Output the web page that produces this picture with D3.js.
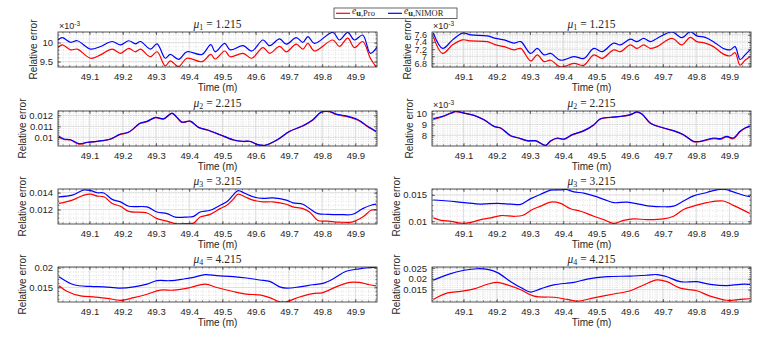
<!DOCTYPE html>
<html>
<head>
<meta charset="utf-8">
<script src="https://cdnjs.cloudflare.com/ajax/libs/d3/7.8.5/d3.min.js"></script>
<style>
  body { margin: 0; background: #fff; }
  svg text { font-family: "Liberation Sans", Arial, sans-serif; fill: #262626; }
</style>
</head>
<body>
<svg id="fig" width="765" height="337"></svg>
<script>
// time axis
var timeRange = [49.005, 49.965];
var timeTicks = [49.1, 49.2, 49.3, 49.4, 49.5, 49.6, 49.7, 49.8, 49.9];

// mu_1 = 1.215, left
var tA1 = [49.005, 49.018, 49.043, 49.063, 49.103, 49.133, 49.168, 49.193, 49.218, 49.238, 49.253, 49.283, 49.303, 49.328, 49.343, 49.368, 49.393, 49.438, 49.465, 49.478, 49.507, 49.523, 49.562, 49.588, 49.622, 49.642, 49.672, 49.692, 49.722, 49.742, 49.757, 49.777, 49.832, 49.852, 49.877, 49.897, 49.922, 49.945, 49.965];
var nimorA1 = [10.07, 10.13, 10.01, 10.05, 9.83, 9.90, 10.03, 9.94, 10.05, 9.97, 10.03, 9.83, 9.97, 9.59, 9.69, 9.56, 9.76, 9.69, 9.95, 9.76, 9.98, 9.81, 9.92, 9.78, 10.07, 9.92, 10.10, 9.96, 10.13, 10.01, 10.16, 9.98, 10.27, 10.07, 10.27, 10.07, 10.20, 9.72, 9.88];
var proA1 = [9.87, 9.94, 9.81, 9.83, 9.59, 9.68, 9.83, 9.72, 9.85, 9.76, 9.83, 9.63, 9.76, 9.39, 9.52, 9.37, 9.59, 9.50, 9.69, 9.57, 9.78, 9.63, 9.72, 9.59, 9.87, 9.72, 9.90, 9.76, 9.96, 9.83, 9.98, 9.78, 10.07, 9.90, 10.12, 9.87, 10.03, 9.59, 9.33];

// mu_1 = 1.215, right
var tB1 = [49.009, 49.037, 49.067, 49.097, 49.122, 49.172, 49.197, 49.222, 49.252, 49.272, 49.302, 49.322, 49.342, 49.362, 49.392, 49.432, 49.462, 49.492, 49.517, 49.552, 49.572, 49.602, 49.622, 49.642, 49.662, 49.682, 49.727, 49.757, 49.782, 49.802, 49.827, 49.852, 49.882, 49.902, 49.917, 49.932, 49.947, 49.962];
var nimorB1 = [7.65, 7.22, 7.46, 7.65, 7.60, 7.57, 7.50, 7.46, 7.37, 7.41, 7.08, 7.22, 7.04, 7.08, 6.89, 6.99, 6.94, 7.22, 7.13, 7.37, 7.32, 7.48, 7.41, 7.50, 7.41, 7.50, 7.68, 7.52, 7.69, 7.57, 7.53, 7.41, 7.22, 7.18, 7.27, 6.91, 7.04, 7.18];
var proB1 = [7.55, 7.08, 7.32, 7.46, 7.43, 7.41, 7.32, 7.27, 7.18, 7.22, 6.87, 7.04, 6.85, 6.89, 6.70, 6.80, 6.75, 7.04, 6.94, 7.18, 7.13, 7.32, 7.22, 7.32, 7.22, 7.27, 7.50, 7.32, 7.53, 7.41, 7.37, 7.27, 7.06, 7.01, 7.10, 6.75, 6.89, 6.99];

// mu_2 = 2.215, left
var tA2 = [49.008, 49.023, 49.043, 49.068, 49.093, 49.123, 49.163, 49.193, 49.218, 49.253, 49.273, 49.298, 49.323, 49.348, 49.363, 49.378, 49.403, 49.428, 49.453, 49.493, 49.532, 49.562, 49.582, 49.607, 49.627, 49.662, 49.702, 49.742, 49.772, 49.797, 49.822, 49.842, 49.872, 49.902, 49.917, 49.937, 49.962];
var nimorA2 = [10.09, 9.85, 9.78, 9.42, 9.55, 9.64, 9.85, 10.30, 10.48, 11.30, 11.45, 11.82, 11.69, 12.21, 11.82, 11.39, 11.48, 10.91, 10.69, 10.24, 9.78, 9.64, 9.64, 9.33, 9.27, 9.73, 10.55, 11.05, 11.60, 12.30, 12.36, 12.12, 11.96, 11.69, 11.45, 11.00, 10.55];
var proA2 = [10.00, 9.80, 9.76, 9.38, 9.53, 9.63, 9.84, 10.27, 10.46, 11.28, 11.43, 11.80, 11.67, 12.18, 11.80, 11.36, 11.46, 10.89, 10.67, 10.22, 9.76, 9.62, 9.62, 9.31, 9.25, 9.71, 10.53, 11.03, 11.58, 12.28, 12.34, 12.08, 11.90, 11.63, 11.40, 10.96, 10.52];

// mu_2 = 2.215, right
var tB2 = [49.009, 49.037, 49.062, 49.077, 49.102, 49.132, 49.162, 49.192, 49.212, 49.242, 49.267, 49.292, 49.317, 49.347, 49.362, 49.382, 49.402, 49.427, 49.462, 49.492, 49.512, 49.542, 49.572, 49.602, 49.622, 49.637, 49.662, 49.702, 49.732, 49.762, 49.792, 49.812, 49.852, 49.872, 49.892, 49.912, 49.932, 49.947, 49.962];
var nimorB2 = [9.54, 9.76, 10.06, 10.22, 10.06, 9.85, 9.44, 8.83, 8.68, 7.96, 7.75, 7.50, 7.50, 7.07, 7.50, 7.75, 7.66, 8.06, 8.43, 8.98, 9.54, 9.67, 9.76, 9.91, 10.16, 9.97, 9.14, 8.68, 8.43, 8.06, 7.44, 7.44, 7.75, 7.69, 7.91, 7.75, 8.37, 8.68, 8.83];
var proB2 = [9.46, 9.72, 10.04, 10.20, 10.04, 9.83, 9.42, 8.81, 8.66, 7.94, 7.73, 7.48, 7.47, 7.05, 7.46, 7.71, 7.62, 8.03, 8.41, 8.96, 9.52, 9.65, 9.74, 9.89, 10.14, 9.95, 9.12, 8.66, 8.41, 8.04, 7.42, 7.42, 7.70, 7.62, 7.85, 7.68, 8.33, 8.66, 8.82];

// mu_3 = 3.215, left
var tA3 = [49.008, 49.048, 49.083, 49.103, 49.123, 49.143, 49.168, 49.193, 49.218, 49.273, 49.303, 49.333, 49.358, 49.393, 49.413, 49.433, 49.463, 49.493, 49.513, 49.532, 49.547, 49.567, 49.592, 49.622, 49.652, 49.692, 49.712, 49.742, 49.762, 49.787, 49.817, 49.852, 49.892, 49.922, 49.947, 49.962];
var nimorA3 = [13.52, 13.72, 14.32, 14.24, 14.00, 13.96, 13.21, 12.92, 12.40, 12.32, 11.72, 11.53, 11.12, 11.12, 11.20, 11.72, 11.92, 12.52, 12.92, 13.72, 14.24, 13.93, 13.52, 13.33, 13.38, 13.12, 12.80, 12.64, 12.12, 11.53, 11.45, 11.42, 11.45, 12.12, 12.52, 12.64];
var proA3 = [12.73, 13.12, 13.72, 13.84, 13.60, 13.52, 12.73, 12.40, 11.80, 11.60, 10.93, 10.64, 10.35, 10.35, 10.40, 11.12, 11.44, 12.12, 12.52, 13.21, 13.84, 13.52, 13.12, 12.92, 12.92, 12.64, 12.32, 12.12, 11.72, 10.72, 10.64, 10.52, 10.56, 11.12, 11.92, 12.00];

// mu_3 = 3.215, right
var tB3n = [49.009, 49.052, 49.102, 49.152, 49.202, 49.242, 49.272, 49.302, 49.332, 49.362, 49.392, 49.407, 49.432, 49.462, 49.492, 49.522, 49.552, 49.592, 49.632, 49.662, 49.702, 49.732, 49.762, 49.792, 49.832, 49.862, 49.882, 49.912, 49.942, 49.962];
var nimorB3 = [14.04, 13.85, 13.54, 13.27, 13.40, 13.27, 13.21, 14.30, 15.13, 15.90, 15.96, 16.05, 15.58, 15.33, 14.81, 14.17, 13.54, 13.65, 13.21, 12.88, 12.76, 12.88, 13.85, 14.81, 15.46, 15.96, 16.08, 15.58, 14.94, 14.69];
var tB3p = [49.009, 49.032, 49.062, 49.092, 49.122, 49.152, 49.182, 49.212, 49.252, 49.277, 49.307, 49.332, 49.362, 49.392, 49.422, 49.452, 49.492, 49.522, 49.552, 49.582, 49.612, 49.652, 49.702, 49.732, 49.762, 49.792, 49.832, 49.882, 49.912, 49.942, 49.962];
var proB3 = [10.65, 10.19, 10.00, 9.65, 9.81, 10.33, 10.65, 11.10, 10.96, 11.10, 12.25, 12.88, 13.65, 13.40, 12.38, 11.92, 10.96, 10.33, 9.60, 10.19, 10.46, 10.33, 10.46, 10.96, 12.25, 12.88, 13.54, 13.85, 13.02, 12.12, 11.48];

// mu_4 = 4.215, left
var tA4n = [49.008, 49.053, 49.103, 49.143, 49.193, 49.233, 49.273, 49.303, 49.343, 49.383, 49.413, 49.448, 49.483, 49.532, 49.572, 49.612, 49.642, 49.672, 49.692, 49.732, 49.772, 49.802, 49.832, 49.872, 49.912, 49.952, 49.962];
var nimorA4 = [17.75, 15.68, 15.25, 15.16, 14.83, 15.16, 15.86, 16.72, 16.72, 17.15, 17.58, 18.27, 18.01, 17.75, 17.41, 16.90, 16.53, 15.16, 14.83, 15.16, 15.68, 16.03, 17.15, 19.13, 19.74, 20.10, 20.20];
var tA4p = [49.008, 49.033, 49.073, 49.113, 49.153, 49.193, 49.233, 49.273, 49.313, 49.353, 49.403, 49.448, 49.483, 49.532, 49.572, 49.612, 49.642, 49.672, 49.692, 49.732, 49.772, 49.802, 49.842, 49.882, 49.912, 49.942, 49.962];
var proA4 = [15.42, 13.96, 12.84, 12.58, 12.24, 11.72, 12.40, 13.28, 14.31, 14.31, 14.98, 15.86, 14.98, 13.96, 13.28, 13.10, 12.40, 11.37, 11.37, 12.58, 13.45, 13.70, 15.16, 16.28, 16.28, 15.68, 15.42];

// mu_4 = 4.215, right
var tB4n = [49.009, 49.052, 49.102, 49.142, 49.172, 49.202, 49.242, 49.272, 49.302, 49.332, 49.372, 49.432, 49.472, 49.532, 49.602, 49.652, 49.682, 49.712, 49.752, 49.802, 49.842, 49.892, 49.932, 49.962];
var nimorB4 = [19.4, 22.0, 24.0, 24.7, 24.4, 22.9, 18.7, 16.0, 13.9, 15.4, 17.2, 18.4, 19.9, 21.0, 21.3, 21.7, 22.0, 21.0, 18.7, 18.7, 17.5, 16.9, 17.5, 17.5];
var tB4p = [49.009, 49.052, 49.092, 49.132, 49.172, 49.202, 49.232, 49.272, 49.312, 49.372, 49.412, 49.442, 49.492, 49.552, 49.602, 49.642, 49.682, 49.712, 49.752, 49.802, 49.842, 49.892, 49.932, 49.962];
var proB4 = [10.5, 13.5, 14.2, 15.4, 17.5, 18.4, 17.2, 15.0, 12.0, 11.5, 10.5, 9.7, 11.2, 13.0, 14.5, 17.2, 19.5, 18.7, 15.7, 14.5, 12.0, 10.1, 10.5, 10.8];

// all values above are relative errors in units of 1e-3
var panels = [
  {row: 0, col: 0, mu: "1", val: "1.215", tN: tA1, nimor: nimorA1, tP: tA1, pro: proA1, yDomain: [9.36, 10.28], yTicks: [9.5, 10], yMinor: 0.1, exp: true},
  {row: 0, col: 1, mu: "1", val: "1.215", tN: tB1, nimor: nimorB1, tP: tB1, pro: proB1, yDomain: [6.70, 7.68], yTicks: [6.8, 7, 7.2, 7.4, 7.6], yMinor: 0.05, exp: true},
  {row: 1, col: 0, mu: "2", val: "2.215", tN: tA2, nimor: nimorA2, tP: tA2, pro: proA2, yDomain: [9.21, 12.40], yTicks: [10, 11, 12], yMinor: 0.2, exp: false},
  {row: 1, col: 1, mu: "2", val: "2.215", tN: tB2, nimor: nimorB2, tP: tB2, pro: proB2, yDomain: [7.01, 10.25], yTicks: [8, 9, 10], yMinor: 0.2, exp: true},
  {row: 2, col: 0, mu: "3", val: "3.215", tN: tA3, nimor: nimorA3, tP: tA3, pro: proA3, yDomain: [10.30, 14.44], yTicks: [12, 14], yMinor: 0.5, exp: false},
  {row: 2, col: 1, mu: "3", val: "3.215", tN: tB3n, nimor: nimorB3, tP: tB3p, pro: proB3, yDomain: [9.50, 16.12], yTicks: [10, 15], yMinor: 1, exp: false},
  {row: 3, col: 0, mu: "4", val: "4.215", tN: tA4n, nimor: nimorA4, tP: tA4p, pro: proA4, yDomain: [11.30, 20.20], yTicks: [15, 20], yMinor: 1, exp: false},
  {row: 3, col: 1, mu: "4", val: "4.215", tN: tB4n, nimor: nimorB4, tP: tB4p, pro: proB4, yDomain: [9.30, 25.50], yTicks: [15, 20, 25], yMinor: 1, exp: false}
];

var colX = [58, 432];
var rowY = [32, 111, 189, 267];
var plotW = 319, plotH = 35;
var red = "#ff0000", blue = "#0000ff";

var svg = d3.select("#fig");
var x = d3.scaleLinear().domain(timeRange).range([0, plotW]);
var fmt = d3.format("~g");

function minorValues(domain, step) {
  var a = Math.ceil(domain[0] / step - 1e-6), b = Math.floor(domain[1] / step + 1e-6);
  return d3.range(a, b + 1).map(function(i) { return +(i * step).toFixed(6); });
}

function drawPanel(p, k) {
  var g = svg.append("g")
    .attr("transform", "translate(" + colX[p.col] + "," + rowY[p.row] + ")");
  var y = d3.scaleLinear().domain(p.yDomain).range([plotH, 0]);

  g.append("rect").attr("width", plotW).attr("height", plotH).attr("fill", "#fff");

  // minor grid
  var xMinor = minorValues(timeRange, 0.02);
  var yMinor = minorValues(p.yDomain, p.yMinor);
  g.selectAll(".gxm").data(xMinor).enter().append("line")
    .attr("x1", x).attr("x2", x).attr("y1", 0).attr("y2", plotH)
    .attr("stroke", "#c4c4c4").attr("stroke-width", 0.5).attr("stroke-dasharray", "1,1.5");
  g.selectAll(".gym").data(yMinor).enter().append("line")
    .attr("x1", 0).attr("x2", plotW).attr("y1", y).attr("y2", y)
    .attr("stroke", "#c4c4c4").attr("stroke-width", 0.5).attr("stroke-dasharray", "1,1.5");

  // major grid
  g.selectAll(".gx").data(timeTicks).enter().append("line")
    .attr("x1", x).attr("x2", x).attr("y1", 0).attr("y2", plotH)
    .attr("stroke", "#d6d6d6").attr("stroke-width", 0.7);
  g.selectAll(".gy").data(p.yTicks).enter().append("line")
    .attr("x1", 0).attr("x2", plotW).attr("y1", y).attr("y2", y)
    .attr("stroke", "#d6d6d6").attr("stroke-width", 0.7);

  // curves
  g.append("clipPath").attr("id", "clip" + k)
    .append("rect").attr("width", plotW).attr("height", plotH);
  var plot = g.append("g").attr("clip-path", "url(#clip" + k + ")");
  var line = d3.line().curve(d3.curveCatmullRom.alpha(0.5));
  plot.append("path")
    .attr("d", line(p.tP.map(function(t, i) { return [x(t), y(p.pro[i])]; })))
    .attr("fill", "none").attr("stroke", red).attr("stroke-width", 1.2);
  plot.append("path")
    .attr("d", line(p.tN.map(function(t, i) { return [x(t), y(p.nimor[i])]; })))
    .attr("fill", "none").attr("stroke", blue).attr("stroke-width", 1.2);

  // minor ticks on the box
  g.selectAll(".mtx").data(xMinor).enter().append("path")
    .attr("d", function(d) { return "M" + x(d) + ",0v1.6M" + x(d) + "," + plotH + "v-1.6"; })
    .attr("stroke", "#262626").attr("stroke-width", 0.5);
  g.selectAll(".mty").data(yMinor).enter().append("path")
    .attr("d", function(d) { return "M0," + y(d) + "h1.6M" + plotW + "," + y(d) + "h-1.6"; })
    .attr("stroke", "#262626").attr("stroke-width", 0.5);

  // axes, ticks pointing in
  var scaleBy = p.exp ? 1 : 1000;
  var labelSize = p.yTicks.length > 3 ? 9 : 9.5;
  g.append("g").attr("transform", "translate(0," + plotH + ")")
    .call(d3.axisBottom(x).tickValues(timeTicks).tickFormat(d3.format(".1f")).tickSizeInner(-3).tickSizeOuter(0).tickPadding(6));
  g.append("g").call(d3.axisTop(x).tickValues(timeTicks).tickFormat("").tickSizeInner(-3).tickSizeOuter(0));
  var yl = g.append("g")
    .call(d3.axisLeft(y).tickValues(p.yTicks).tickFormat(function(d) { return fmt(d / scaleBy); }).tickSizeInner(-3).tickSizeOuter(0).tickPadding(5));
  g.append("g").attr("transform", "translate(" + plotW + ",0)")
    .call(d3.axisRight(y).tickValues(p.yTicks).tickFormat("").tickSizeInner(-3).tickSizeOuter(0));
  g.selectAll(".domain").remove();
  g.selectAll(".tick line").attr("stroke", "#262626").attr("stroke-width", 0.6);
  g.selectAll(".tick text").attr("font-size", 9.5).attr("font-family", "Liberation Sans, Arial, sans-serif").attr("fill", "#262626");
  yl.selectAll(".tick text").attr("font-size", labelSize);

  g.append("rect").attr("width", plotW).attr("height", plotH)
    .attr("fill", "none").attr("stroke", "#262626").attr("stroke-width", 0.8);

  // exponent marker
  if (p.exp) {
    var ex = g.append("text").attr("x", 1).attr("y", -3).attr("font-size", 9);
    ex.append("tspan").text("\u00d710");
    ex.append("tspan").attr("dy", -3.5).attr("font-size", 6.5).text("-3");
  }

  // title
  var title = g.append("text").attr("x", plotW / 2).attr("y", -4.5)
    .attr("text-anchor", "middle")
    .style("font-family", "'Liberation Serif', 'DejaVu Serif', serif").attr("font-size", 11.5);
  title.append("tspan").style("font-style", "italic").text("\u03bc");
  title.append("tspan").attr("font-size", 8).attr("dy", 2.5).text(p.mu);
  title.append("tspan").attr("dy", -2.5).text(" = " + p.val);

  // axis labels
  g.append("text").attr("x", plotW / 2).attr("y", plotH + 24)
    .attr("text-anchor", "middle").attr("font-size", 10).text("Time (m)");
  var widest = 0;
  yl.selectAll(".tick text").each(function() {
    widest = Math.max(widest, this.getComputedTextLength());
  });
  g.append("text")
    .attr("transform", "translate(" + (-5 - widest - 3) + "," + (plotH / 2) + ") rotate(-90)")
    .attr("text-anchor", "middle").attr("font-size", 10).text("Relative error");
}

panels.forEach(drawPanel);

// legend
var leg = svg.append("g").attr("transform", "translate(334,8)");
leg.append("rect").attr("width", 123).attr("height", 10.5)
  .attr("fill", "#fff").attr("stroke", "#262626").attr("stroke-width", 0.7);
var entries = [
  {name: "Pro", color: red, x0: 2},
  {name: "NIMOR", color: blue, x0: 54}
];
entries.forEach(function(e) {
  leg.append("line").attr("x1", e.x0).attr("x2", e.x0 + 14).attr("y1", 5.3).attr("y2", 5.3)
    .attr("stroke", e.color).attr("stroke-width", 1.2);
  var t = leg.append("text").attr("x", e.x0 + 16).attr("y", 6.2)
    .style("font-family", "'Liberation Serif', 'DejaVu Serif', serif").attr("font-size", 9.5);
  t.append("tspan").style("font-style", "italic").text("e");
  t.append("tspan").attr("dy", 2).attr("font-size", 8.5).attr("font-weight", "bold").text("u");
  t.append("tspan").attr("font-size", 8.5).text("," + e.name);
});
</script>
</body>
</html>
